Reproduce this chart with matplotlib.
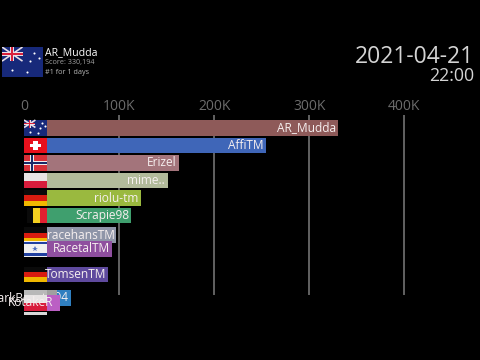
import matplotlib
matplotlib.use("Agg")
import matplotlib.pyplot as plt
from matplotlib.patches import Rectangle

plt.rcParams['font.family'] = ['Open Sans', 'DejaVu Sans']

names = ["AR_Mudda", "AffiTM", "Erizel", "mime..", "riolu-tm", "Scrapie98",
         "racehansTM", "RacetalTM", "TomsenTM", "xx94", "DarkBeast", "KotakeR", ""]
scores = [330194, 254000, 163000, 151000, 123000, 113000, 97000, 92500, 88000, 49000, 35000, 38000, 15000]
ranks = [0, 1, 2, 3, 4, 5, 6.14, 6.91, 8.37, 9.69, 9.74, 9.98, 10.97]
label_gaps = [2500, 2500, 2500, 2500, 2500, 2500, 1500, 2500, 1500, 2000, 10500, 7500, 2500]
colors = ["#8e5a59", "#3f66b8", "#a3747b", "#b2bb9b", "#9ab93f", "#3f9f6e",
          "#8f95a8", "#8f4f9f", "#5f4a9e", "#2f7fc0", "#a0a0a0", "#bb5fc4", "#888888"]
flags = ["au", "ch", "no", "pl", "de", "be", "de", "il", "de", "de", "cz", "pl", "wg"]
ticks = [0, 100000, 200000, 300000, 400000]
tick_labels = ["0", "100K", "200K", "300K", "400K"]
leader = "AR_Mudda"
score_text = "Score: 330,194"
rank_text = "#1 for 1 days"
date_text = "2021-04-21"
time_text = "22:00"

W, H = 480, 360
fig = plt.figure(figsize=(4.8, 3.6), dpi=100, facecolor="black")
bg = fig.add_axes([0, 0, 1, 1]); bg.set_xlim(0, W); bg.set_ylim(H, 0); bg.axis("off")

# main chart: 0 at x=24, 95.1 px per 100K; rows 17.5 px apart, clipped at y=315
top, bottom = 115, 315
ax = fig.add_axes([24/W, 1-bottom/H, (W-24)/W, (bottom-top)/H], facecolor="black")
ax.set_xlim(0, (W-24)/95.1*100000)
row = 17.5
ax.set_ylim((bottom-128)/row, (top-128)/row)
ax.axis("off")
gl = (295-128)/row
ax.vlines(ticks[1:], -0.74, gl, color="#6a6a6a", lw=1.3, zorder=1)
FW = 24000  # flag width in data units
BH = 0.91


def rect(a, x, y, w, h, c, z):
    a.add_patch(Rectangle((x, y), w, h, color=c, lw=0, zorder=z))


def union_flag(a, x0, y0, w, h, z):
    """Australian flag in box (x0, y0, w, h); y grows downward."""
    rect(a, x0, y0, w, h, "#17297a", z)
    cw, ch = w*.5, h*.47
    a.plot([x0, x0+cw], [y0, y0+ch], color="#e8dfe6", lw=1.2, zorder=z+.001, solid_capstyle="butt")
    a.plot([x0, x0+cw], [y0+ch, y0], color="#e8dfe6", lw=1.2, zorder=z+.001, solid_capstyle="butt")
    rect(a, x0, y0+ch*.36, cw, ch*.28, "#e8dfe6", z+.002)
    rect(a, x0+cw*.4, y0, cw*.2, ch, "#e8dfe6", z+.002)
    rect(a, x0, y0+ch*.42, cw, ch*.16, "#d8203c", z+.003)
    rect(a, x0+cw*.44, y0, cw*.12, ch, "#d8203c", z+.003)
    a.plot([x0+w*.25, x0+w*.62, x0+w*.78, x0+w*.68, x0+w*.9],
           [y0+h*.75, y0+h*.82, y0+h*.2, y0+h*.48, y0+h*.36], ls="",
           marker="o", ms=1.5, mew=0, color="white", zorder=z+.004)


def stripes(y, cols, z):
    n = len(cols)
    for i, c in enumerate(cols):
        rect(ax, 0, y-BH/2+i*BH/n, FW, BH/n, c, z)


def flag(kind, y, z):
    h = BH
    t = y-h/2
    if kind == "au":
        union_flag(ax, 0, t, FW, h, z)
    elif kind == "ch":
        stripes(y, ["#e8101c"], z)
        rect(ax, FW*.4, t+h*.2, FW*.2, h*.6, "white", z+.001)
        rect(ax, FW*.25, t+h*.4, FW*.5, h*.2, "white", z+.001)
    elif kind == "no":
        stripes(y, ["#d83038"], z)
        rect(ax, FW*.25, t, FW*.2, h, "#eeeeee", z+.001)
        rect(ax, 0, t+h*.38, FW, h*.24, "#eeeeee", z+.001)
        rect(ax, FW*.3, t, FW*.1, h, "#1a2a68", z+.002)
        rect(ax, 0, t+h*.45, FW, h*.1, "#1a2a68", z+.002)
    elif kind == "pl":
        stripes(y, ["#e8e4e4", "#d81c3c"], z)
    elif kind == "de":
        stripes(y, ["#0a0a0a", "#d81c10", "#f0b800"], z)
    elif kind == "be":
        rect(ax, 0, t, FW, h, "black", z)
        for i, c in enumerate(["#0a0a0a", "#f5d020", "#e02030"]):
            rect(ax, FW*(.12+i*.293), t, FW*.293, h, c, z+.001)
    elif kind == "il":
        stripes(y, ["#f0f0f0"], z)
        rect(ax, 0, t+h*.08, FW, h*.14, "#2040a0", z+.001)
        rect(ax, 0, t+h*.78, FW, h*.14, "#2040a0", z+.001)
        ax.plot([FW/2], [y], marker="*", ms=4, mew=0, color="#5070c0", zorder=z+.002)
    elif kind == "cz":
        stripes(y, ["#b8b8b8", "#c82030"], z)
    elif kind == "wg":
        stripes(y, ["#d8d8d8", "#2f5a3a", "#2f5a3a"], z)


for i in range(len(names)):
    z = 2 + i
    ax.barh(ranks[i], scores[i], height=BH, color=colors[i], zorder=z)
    flag(flags[i], ranks[i], z+.1)
    ax.text(scores[i]-label_gaps[i], ranks[i], names[i], ha="right", va="center", color="#f6efef",
            fontsize=8.6, zorder=z+.5, clip_on=False)

for t, l in zip(ticks, tick_labels):
    x = 24 + t/100000*95.1
    bg.text(x, 107, l, ha="center", va="center", color="#6c6c6c", fontsize=10)

# header flag
ax2 = fig.add_axes([2/W, 1-77/H, 41/W, 30/H]); ax2.set_xlim(0, 1); ax2.set_ylim(1, 0); ax2.axis("off")
union_flag(ax2, 0, 0, 1, 1, 2)

bg.text(45, 52.5, leader, color="white", fontsize=7.6, va="center", ha="left")
bg.text(45, 62.5, score_text, color="#a0a0a0", fontsize=5.2, va="center", ha="left")
bg.text(45, 72.5, rank_text, color="#b8b8b8", fontsize=5.2, va="center", ha="left")
bg.text(474, 57, date_text, color="#d4d4d4", fontsize=16.5, va="center", ha="right")
bg.text(474, 76, time_text, color="#d4d4d4", fontsize=12.8, va="center", ha="right")

fig.savefig("out.png", dpi=100, facecolor="black")
